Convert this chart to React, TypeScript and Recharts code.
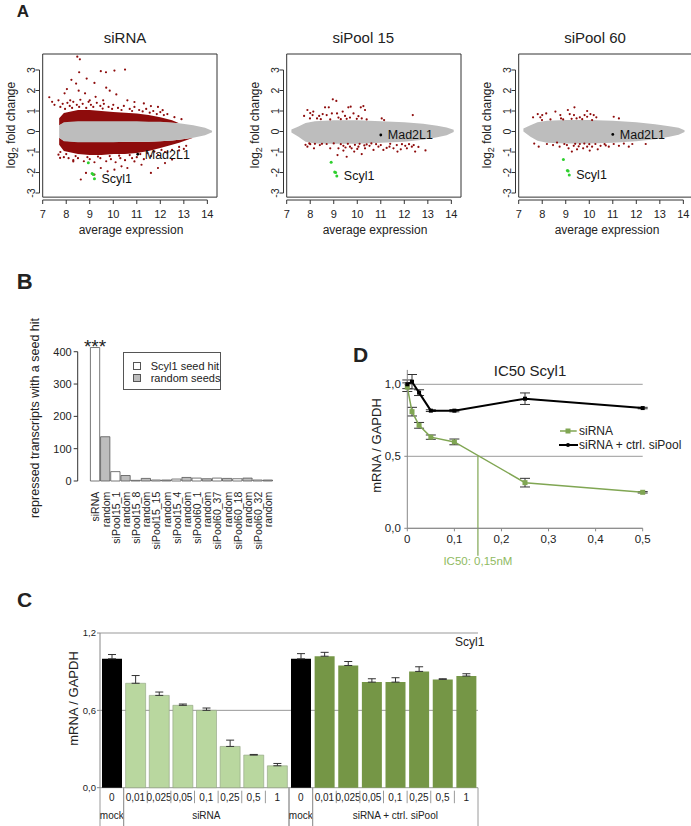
import React from 'react';
import {
  ComposedChart,
  Area,
  Scatter,
  Bar,
  Line,
  Cell,
  XAxis,
  YAxis,
  CartesianGrid,
  ReferenceArea,
  ReferenceLine,
  ReferenceDot,
  LabelList,
  Legend,
  ErrorBar,
} from 'recharts';

const FONT = '"Liberation Sans", Arial, Helvetica, sans-serif';
const NARROW = '"Liberation Sans Narrow", "Liberation Sans", Arial, sans-serif';
const INK = '#222';
const AXIS = '#333';
const RED = '#8e0c0c';
const GREY = '#bdbdbd';
const LIME = '#2fcf2f';
const GREEN_LINE = '#80a653';
const GREEN_LIGHT = '#b9d79f';
const GREEN_DARK = '#759646';

type Pt = [number, number];

// ---------- A: MA plots ----------
const MA_X_TICKS = [7, 8, 9, 10, 11, 12, 13, 14];
const MA_Y_TICKS = [-3, -2, -1, 0, 1, 2, 3];

// dense clouds, drawn as [low, high] bands at these expression values
const SIRNA_BAND_X = [7.7, 7.9, 8.5, 9, 9.5, 10, 10.5, 11, 11.5, 12, 12.5, 12.8, 13.4, 13.9, 14.2];
const SIRNA_GREY: Pt[] = [[-0.3, 0.3], [-0.48, 0.45], [-0.52, 0.5], [-0.52, 0.5], [-0.52, 0.5], [-0.52, 0.5], [-0.5, 0.5], [-0.5, 0.5], [-0.5, 0.48], [-0.48, 0.47], [-0.44, 0.43], [-0.4, 0.4], [-0.3, 0.3], [-0.18, 0.18], [-0.04, 0.04]];
const SIRNA_RED_UP: Pt[] = [[0.3, 0.65], [0.4, 0.9], [0.45, 1.05], [0.45, 1.05], [0.45, 1.0], [0.45, 0.95], [0.45, 0.92], [0.45, 0.88], [0.45, 0.8], [0.45, 0.7], [0.43, 0.55], [0.4, 0.4], [0.3, 0.3], [0.18, 0.18], [0.04, 0.04]];
const SIRNA_RED_DOWN: Pt[] = [[-0.65, -0.3], [-0.95, -0.45], [-1.1, -0.5], [-1.15, -0.5], [-1.15, -0.5], [-1.1, -0.5], [-1.1, -0.5], [-1.05, -0.5], [-0.95, -0.5], [-0.8, -0.48], [-0.65, -0.44], [-0.55, -0.4], [-0.3, -0.3], [-0.18, -0.18], [-0.04, -0.04]];
const SIRNA_RED: Pt[] = [
  [7.28, 1.67], [7.4, 1.45], [7.5, 1.3], [8.47, 3.65], [8.58, 3.52], [8.55, 2.89], [8.22, 2.52], [9.47, 2.94],
  [9.69, 2.89], [10.05, 2.97], [10.5, 3.02], [8.03, 2.07], [7.93, 1.86], [8.42, 2.34], [8.87, 2.58], [9.2, 2.37],
  [9.7, 2.14], [10.13, 1.81], [9.85, 1.99], [8.8, 1.86], [9.25, 1.69], [10.6, 1.52], [10.9, 1.44], [11.3, 1.37],
  [11.6, 1.24], [11.9, 1.2], [12.1, 1.04], [8.53, 1.99], [7.67, 1.52], [8.17, 1.52], [9.0, 1.52], [9.57, 1.52],
  [7.75, 1.2], [7.85, 1.35], [8.05, 1.4], [8.15, 1.25], [8.3, 1.45], [8.45, 1.3], [8.6, 1.55], [8.7, 1.35],
  [8.95, 1.45], [9.05, 1.3], [9.3, 1.4], [9.45, 1.25], [9.6, 1.35], [9.8, 1.2], [10.0, 1.3], [10.2, 1.15],
  [10.45, 1.25], [10.7, 1.1], [10.9, 1.2], [11.1, 1.05], [11.4, 1.1], [11.7, 1.0], [12.0, 0.95], [12.3, 0.85],
  [12.6, 0.7], [12.9, 0.6],
  [7.95, 1.1], [8.25, 1.15], [8.55, 1.2], [8.85, 1.15], [9.15, 1.2], [9.55, 1.12], [9.95, 1.1], [10.35, 1.05],
  [10.8, 1.0], [11.25, 0.98], [11.55, 0.92], [11.85, 0.85], [12.15, 0.8],
  [7.67, -1.13], [7.74, -1.29], [9.47, -1.78], [9.76, -1.94], [10.05, -1.86], [10.35, -1.7], [10.6, -1.78],
  [11.2, -1.62], [11.6, -2.02], [11.9, -1.78], [12.2, -1.54], [12.5, -1.37], [8.62, -2.34], [8.84, -2.02],
  [9.2, -2.1], [8.3, -1.46], [10.9, -1.46], [12.3, -1.0], [12.8, -0.92], [13.0, -0.85],
  [7.75, -1.0], [7.9, -1.25], [8.1, -1.3], [8.3, -1.4], [8.5, -1.3], [8.75, -1.45], [9.0, -1.35], [9.2, -1.5],
  [9.45, -1.3], [9.7, -1.45], [9.9, -1.35], [10.1, -1.5], [10.3, -1.3], [10.5, -1.4], [10.8, -1.3], [11.0, -1.25],
  [11.3, -1.35], [11.6, -1.2], [11.9, -1.15], [12.2, -1.0], [12.5, -0.9], [12.8, -0.75], [13.1, -0.7],
  [8.0, -1.1], [8.4, -1.2], [8.9, -1.25], [9.35, -1.22], [9.85, -1.2], [10.25, -1.18], [10.7, -1.15], [11.15, -1.1],
  [11.45, -1.05], [11.75, -0.98], [12.05, -0.9],
];
const SIRNA_SCYL1: Pt[] = [[8.94, -1.52], [9.1, -2.05], [9.15, -2.1], [9.2, -2.3]];
const SIRNA_MAD2L1: Pt = [11.04, -1.11];

const POOL15_BAND_X = [7.2, 7.5, 7.8, 8.2, 9, 10, 11, 12, 12.8, 13.4, 13.8, 14.1];
const POOL15_GREY: Pt[] = [[-0.05, 0.1], [-0.25, 0.25], [-0.5, 0.42], [-0.58, 0.5], [-0.6, 0.55], [-0.6, 0.55], [-0.55, 0.5], [-0.5, 0.45], [-0.4, 0.38], [-0.28, 0.28], [-0.18, 0.2], [-0.02, 0.08]];
const POOL15_RED: Pt[] = [
  [7.88, 1.05], [7.74, 0.76], [7.99, 0.64], [8.1, 0.8], [8.29, 0.64], [8.53, 0.85], [8.63, 1.18], [8.79, 1.18],
  [8.96, 1.57], [9.11, 1.49], [8.7, 0.8], [8.92, 0.88], [9.14, 0.88], [8.85, 0.59], [9.2, 0.68], [9.62, 1.18],
  [9.72, 1.21], [9.38, 0.97], [9.48, 0.76], [9.69, 0.68], [9.84, 0.88], [9.98, 0.62], [10.15, 1.18], [10.26, 1.24],
  [10.33, 1.05], [10.19, 0.64], [10.4, 0.59], [11.04, 0.64], [11.14, 0.56], [12.36, 0.8], [8.13, 0.97], [8.38, 0.76],
  [8.45, 0.6], [9.3, 0.6], [9.55, 0.62], [10.05, 0.75], [8.0, 0.9],
  [7.88, -0.74], [7.96, -0.58], [8.16, -0.82], [8.41, -0.66], [8.7, -0.61], [8.85, -0.82], [9.2, -0.82], [9.41, -0.93],
  [9.55, -1.23], [9.16, -1.15], [9.69, -0.74], [9.87, -0.98], [10.05, -0.74], [10.19, -1.1], [10.33, -0.82], [10.52, -0.7],
  [10.69, -0.9], [10.9, -0.74], [11.11, -0.9], [11.37, -0.74], [11.54, -0.82], [11.68, -0.66], [11.85, -0.87], [12.11, -0.82],
  [12.32, -0.74], [12.46, -0.98], [11.71, -0.98], [12.04, -0.7], [9.41, -0.7], [9.76, -0.82], [9.6, -0.6], [9.9, -0.65],
  [10.1, -0.6], [10.4, -0.63], [10.6, -0.58], [10.8, -0.62], [9.3, -0.62], [9.0, -0.58], [8.5, -0.6], [8.2, -0.6],
  [8.0, -0.62], [7.8, -0.65], [12.2, -0.62], [12.4, -0.66], [12.6, -0.75], [11.9, -0.62], [11.4, -0.6], [12.9, -0.92],
  [10.3, -0.68], [10.0, -0.85], [9.5, -0.78], [11.0, -0.66], [11.25, -0.8],
];
const POOL15_SCYL1: Pt[] = [[8.89, -1.5], [9.04, -1.98], [9.08, -2.0], [9.13, -2.17]];
const POOL15_MAD2L1: Pt = [11.0, -0.17];

const POOL60_BAND_X = [7.2, 7.5, 7.8, 8.2, 9, 10, 11, 12, 12.8, 13.4, 13.8, 14.05];
const POOL60_GREY: Pt[] = [[0.0, 0.15], [-0.25, 0.3], [-0.45, 0.45], [-0.55, 0.52], [-0.58, 0.56], [-0.58, 0.56], [-0.55, 0.52], [-0.48, 0.45], [-0.38, 0.36], [-0.26, 0.26], [-0.16, 0.18], [-0.02, 0.06]];
const POOL60_RED: Pt[] = [
  [7.61, 0.69], [7.81, 0.85], [7.92, 0.69], [7.99, 0.56], [8.17, 0.88], [8.56, 0.97], [8.77, 0.8], [8.8, 0.64],
  [8.89, 0.59], [9.09, 1.05], [9.17, 0.85], [9.37, 1.18], [9.35, 0.8], [9.46, 0.64], [9.6, 0.69], [9.8, 0.8],
  [9.91, 0.72], [10.05, 0.85], [10.19, 0.8], [10.3, 0.69], [10.12, 0.56], [11.04, 0.72], [11.26, 0.64], [8.0, 0.8],
  [8.35, 0.59], [9.91, 1.0], [9.25, 0.62], [9.7, 0.6],
  [7.85, -0.74], [8.2, -0.61], [8.46, -0.66], [8.63, -0.54], [8.74, -0.74], [8.94, -0.61], [9.12, -0.82], [9.26, -0.98],
  [9.34, -0.7], [9.48, -0.87], [9.6, -0.61], [9.74, -0.82], [9.79, -0.59], [9.91, -0.74], [10.02, -0.93], [10.12, -0.74],
  [10.26, -0.61], [10.36, -0.87], [10.48, -0.7], [10.65, -0.61], [10.83, -0.74], [11.04, -0.61], [11.26, -0.7], [11.47, -0.59],
  [11.68, -0.74], [11.83, -0.61], [12.4, -0.61], [7.66, -0.59], [9.05, -0.66], [9.55, -0.72], [10.0, -0.62], [10.7, -0.68],
  [9.4, -0.6],
];
const POOL60_SCYL1: Pt[] = [[8.9, -1.36], [9.07, -1.9], [9.1, -1.93], [9.15, -2.12]];
const POOL60_MAD2L1: Pt = [11.0, -0.14];

// ---------- B: seed hits ----------
const B_LABELS = [
  'siRNA', 'random', 'siPool15_1', 'random', 'siPool15_8', 'random', 'siPool15_15', 'random', 'siPool15_4',
  'random', 'siPool60_1', 'random', 'siPool60_37', 'random', 'siPool60_18', 'random', 'siPool60_32', 'random',
];
const B_VALUES = [413, 137, 29, 17, 2, 8, 3, 3, 6, 11, 9, 7, 9, 8, 7, 9, 3, 3];
const B_Y_TICKS = [0, 100, 200, 300, 400];
const B_LEGEND = ['Scyl1 seed hit', 'random seeds'];

// ---------- C: qPCR bars ----------
const C_DOSES = ['0', '0,01', '0,025', '0,05', '0,1', '0,25', '0,5', '1', '0', '0,01', '0,025', '0,05', '0,1', '0,25', '0,5', '1'];
const C_GROUPS = [
  'mock', 'siRNA', 'siRNA', 'siRNA', 'siRNA', 'siRNA', 'siRNA', 'siRNA',
  'mock', 'siRNA + ctrl. siPool', 'siRNA + ctrl. siPool', 'siRNA + ctrl. siPool', 'siRNA + ctrl. siPool',
  'siRNA + ctrl. siPool', 'siRNA + ctrl. siPool', 'siRNA + ctrl. siPool',
];
const C_VALUES = [1.0, 0.81, 0.716, 0.639, 0.6, 0.32, 0.253, 0.17, 1.0, 1.02, 0.948, 0.819, 0.819, 0.902, 0.84, 0.866];
const C_ERRORS = [0.033, 0.06, 0.026, 0.01, 0.018, 0.049, 0.005, 0.018, 0.04, 0.03, 0.031, 0.026, 0.034, 0.036, 0.005, 0.018];
const C_Y_TICKS = [0, 0.6, 1.2];

// ---------- D: IC50 ----------
const D_DOSES = [0, 0.01, 0.025, 0.05, 0.1, 0.25, 0.5];
const D_SIRNA = [0.98, 0.81, 0.715, 0.633, 0.6, 0.317, 0.25];
const D_SIRNA_ERR = [0.03, 0.03, 0.02, 0.015, 0.02, 0.03, 0.005];
const D_CTRL = [1.0, 1.018, 0.942, 0.817, 0.817, 0.9, 0.835];
const D_CTRL_ERR = [0.03, 0.05, 0.02, 0.006, 0.008, 0.04, 0.005];
const D_NAMES = ['siRNA', 'siRNA + ctrl. siPool'];
const D_X_TICKS = [0, 0.1, 0.2, 0.3, 0.4, 0.5];
const D_Y_TICKS = [0, 0.5, 1.0];
const D_IC50 = 0.15;

const comma = (v: number, digits = 1) => v.toFixed(digits).replace('.', ',');

// baseline-positioned html text
const Txt = ({ x, y, size, children, align = 'left', weight = 400, color = INK, family = FONT }: any) => {
  const style: React.CSSProperties = {
    position: 'absolute',
    top: y - 0.8465 * size,
    fontSize: size,
    lineHeight: 1,
    fontWeight: weight,
    color,
    fontFamily: family,
    whiteSpace: 'nowrap',
  };
  if (align === 'center') {
    style.left = x - 150;
    style.width = 300;
    style.textAlign = 'center';
  } else {
    style.left = x;
  }
  return <div style={style}>{children}</div>;
};

const dotShape = (r: number, color: string) => (p: any) => <circle cx={p.cx} cy={p.cy} r={r} fill={color} />;

const MAYTick = ({ x, y, payload }: any) => (
  <text x={x} y={y} transform={`rotate(-90 ${x} ${y})`} textAnchor="middle" fontSize={10.5} fill={INK} fontFamily={FONT}>
    {payload.value}
  </text>
);

const toPts = (a: Pt[]) => a.map(([x, y]) => ({ x, y }));

function MAPlot({ left, bandX, grey, redUp, redDown, red, scyl1, mad }: any) {
  const data = bandX.map((x: number, i: number) => ({
    x,
    grey: grey[i],
    up: redUp ? redUp[i] : null,
    dn: redDown ? redDown[i] : null,
  }));
  const last = scyl1[scyl1.length - 1];
  const labelStyle = { fontSize: 12.5, fill: '#111', fontFamily: FONT };
  return (
    <div style={{ position: 'absolute', left, top: 0 }}>
      <ComposedChart width={218} height={240} data={data} margin={{ top: 54, right: 1, bottom: 39, left: 38.5 }}>
        <XAxis
          type="number"
          dataKey="x"
          domain={[6.864, 14.41]}
          ticks={MA_X_TICKS}
          interval={0}
          allowDataOverflow
          height={1}
          axisLine={false}
          tickLine={{ stroke: AXIS }}
          tickSize={4}
          tickMargin={6}
          tick={{ fontSize: 11, fill: INK, fontFamily: FONT }}
          label={{
            content: () => (
              <text x={131} y={234} textAnchor="middle" fontSize={12} fill={INK} fontFamily={FONT}>
                average expression
              </text>
            ),
          }}
        />
        <YAxis
          type="number"
          domain={[-3.34, 3.78]}
          ticks={MA_Y_TICKS}
          interval={0}
          allowDataOverflow
          width={1}
          axisLine={false}
          tickLine={{ stroke: AXIS }}
          tickSize={4}
          tickMargin={0.5}
          tick={<MAYTick />}
          label={{
            content: () => (
              <text x={15} y={125} transform="rotate(-90 15 125)" textAnchor="middle" fontSize={12} fill={INK} fontFamily={FONT}>
                log<tspan fontSize={9} dy={3}>2</tspan>
                <tspan dy={-3}> fold change</tspan>
              </text>
            ),
          }}
        />
        <ReferenceArea x1={7.0} x2={14.41} y1={-3.2} y2={3.78} fill="none" stroke={AXIS} strokeWidth={1} />
        <ReferenceLine segment={[{ x: 7, y: -3.34 }, { x: 14, y: -3.34 }]} stroke={AXIS} ifOverflow="visible" />
        <ReferenceLine segment={[{ x: 6.864, y: -3 }, { x: 6.864, y: 3 }]} stroke={AXIS} ifOverflow="visible" />
        {redUp && <Area dataKey="up" stroke="none" fill={RED} fillOpacity={1} isAnimationActive={false} />}
        {redDown && <Area dataKey="dn" stroke="none" fill={RED} fillOpacity={1} isAnimationActive={false} />}
        <Area dataKey="grey" stroke="none" fill={GREY} fillOpacity={1} isAnimationActive={false} />
        <Scatter data={toPts(red)} dataKey="y" shape={dotShape(1.1, RED)} isAnimationActive={false} />
        <Scatter data={toPts(scyl1)} dataKey="y" shape={dotShape(1.5, LIME)} isAnimationActive={false} />
        <Scatter data={toPts([mad])} dataKey="y" shape={dotShape(1.4, '#000')} isAnimationActive={false} />
        <ReferenceDot x={mad[0]} y={mad[1]} r={0.01} stroke="none" label={{ value: 'Mad2L1', position: 'right', offset: 7, ...labelStyle }} />
        <ReferenceDot x={last[0]} y={last[1]} r={0.01} stroke="none" label={{ value: 'Scyl1', position: 'right', offset: 7, ...labelStyle }} />
      </ComposedChart>
    </div>
  );
}

const MA_PANELS = [
  { title: 'siRNA', left: 0, titleX: 125, bandX: SIRNA_BAND_X, grey: SIRNA_GREY, redUp: SIRNA_RED_UP, redDown: SIRNA_RED_DOWN, red: SIRNA_RED, scyl1: SIRNA_SCYL1, mad: SIRNA_MAD2L1 },
  { title: 'siPool 15', left: 244, titleX: 363.3, bandX: POOL15_BAND_X, grey: POOL15_GREY, red: POOL15_RED, scyl1: POOL15_SCYL1, mad: POOL15_MAD2L1 },
  { title: 'siPool 60', left: 475.6, titleX: 595, bandX: POOL60_BAND_X, grey: POOL60_GREY, red: POOL60_RED, scyl1: POOL60_SCYL1, mad: POOL60_MAD2L1 },
];

// ---------- B ----------
const BTick = ({ x, y, payload }: any) => {
  const bx = x + 4;
  const ty = y + 10.7;
  return (
    <text x={bx} y={ty} transform={`rotate(-90 ${bx} ${ty})`} textAnchor="end" fontSize={10.5} fill={INK} fontFamily={FONT}>
      {B_LABELS[payload.value]}
    </text>
  );
};

const BLegend = () => (
  <div style={{ position: 'relative', width: 98, height: 38, border: '1px solid #555', boxSizing: 'border-box', fontFamily: FONT, fontSize: 11, color: INK }}>
    {B_LEGEND.map((name, i) => (
      <div key={name} style={{ position: 'absolute', left: 8.4, top: 7 + i * 12.7, height: 12, display: 'flex', alignItems: 'center', whiteSpace: 'nowrap' }}>
        <span style={{ width: 6, height: 6, border: '1px solid #555', background: i === 0 ? '#fff' : GREY, marginRight: 10 }} />
        <span>{name}</span>
      </div>
    ))}
  </div>
);

function SeedChart() {
  const data = B_VALUES.map((v, i) => ({ i, v, stars: i === 0 ? '***' : '' }));
  return (
    <div style={{ position: 'absolute', left: 0, top: 300 }}>
      <ComposedChart width={300} height={260} data={data} margin={{ top: 38.8, right: 21.6, bottom: 78, left: 76.7 }}>
        <XAxis
          type="number"
          dataKey="i"
          domain={[-1.75, 18]}
          ticks={B_VALUES.map((_, i) => i)}
          interval={0}
          allowDataOverflow
          height={1}
          axisLine={false}
          tickLine={false}
          tickSize={0}
          tickMargin={0}
          tick={<BTick />}
        />
        <YAxis
          type="number"
          domain={[0, 440]}
          ticks={B_Y_TICKS}
          interval={0}
          width={1}
          axisLine={false}
          tickLine={{ stroke: AXIS }}
          tickSize={4}
          tickMargin={2}
          tick={{ fontSize: 11, fill: INK, fontFamily: FONT }}
          label={{
            content: () => (
              <text x={39} y={118} transform="rotate(-90 39 118)" textAnchor="middle" fontSize={12.5} fill={INK} fontFamily={FONT}>
                repressed transcripts with a seed hit
              </text>
            ),
          }}
        />
        <ReferenceLine segment={[{ x: -1.75, y: 0 }, { x: -1.75, y: 400 }]} stroke={AXIS} ifOverflow="visible" />
        <Bar dataKey="v" barSize={9.3} isAnimationActive={false}>
          {data.map((d) => (
            <Cell key={d.i} fill={d.i % 2 === 0 ? '#fff' : GREY} stroke="#555" strokeWidth={0.8} />
          ))}
          <LabelList dataKey="stars" position="top" offset={-5} fontSize={19} fill={INK} fontFamily={FONT} />
        </Bar>
        <Legend
          layout="horizontal"
          verticalAlign="middle"
          align="center"
          content={<BLegend />}
          wrapperStyle={{ left: 123.3, top: 51.7, width: 98, height: 38 }}
        />
      </ComposedChart>
    </div>
  );
}

// ---------- C ----------
const C_SLOT = 378 / 16;
const SEP = '#9a9a9a';

const CTick = ({ x, y, payload }: any) => {
  const i = Number(payload.value);
  const g = C_GROUPS[i];
  let s = i;
  while (s > 0 && C_GROUPS[s - 1] === g) s--;
  let e = i;
  while (e < C_GROUPS.length - 1 && C_GROUPS[e + 1] === g) e++;
  const half = C_SLOT / 2;
  const center = Math.floor((s + e) / 2) === i;
  return (
    <g fontFamily={FONT} fontSize={10} fill={INK}>
      <text x={x} y={y + 13} textAnchor="middle">{C_DOSES[i]}</text>
      {e !== i && <line x1={x + half} x2={x + half} y1={y + 3} y2={y + 15.5} stroke={SEP} />}
      {s === i && <line x1={x - half} x2={x - half} y1={y} y2={y + 38.3} stroke={SEP} />}
      {e === i && <line x1={x + half} x2={x + half} y1={y} y2={y + 38.3} stroke={SEP} />}
      {center && (
        <text x={x + ((s + e) / 2 - i) * C_SLOT} y={y + 31.3} textAnchor="middle">
          {g}
        </text>
      )}
    </g>
  );
};

function DoseBarChart() {
  const data = C_VALUES.map((v, i) => ({ i, v, err: [0, C_ERRORS[i]] }));
  const fillFor = (i: number) => (C_GROUPS[i] === 'mock' ? '#000' : C_GROUPS[i] === 'siRNA' ? GREEN_LIGHT : GREEN_DARK);
  return (
    <div style={{ position: 'absolute', left: 0, top: 600 }}>
      <ComposedChart width={500} height={226} data={data} margin={{ top: 33, right: 22, bottom: 0.3, left: 99 }} barCategoryGap={2}>
        <CartesianGrid vertical={false} stroke="#999" horizontalValues={C_Y_TICKS} />
        <XAxis
          dataKey="i"
          type="category"
          interval={0}
          height={38}
          axisLine={false}
          tickLine={false}
          tickSize={0}
          tickMargin={0}
          tick={<CTick />}
        />
        <YAxis
          type="number"
          domain={[0, 1.2]}
          ticks={C_Y_TICKS}
          interval={0}
          width={1}
          axisLine={{ stroke: '#888' }}
          tickLine={{ stroke: '#888' }}
          tickSize={3}
          tickMargin={1}
          tickFormatter={(v: number) => comma(v)}
          tick={{ fontSize: 9.5, fill: INK, fontFamily: FONT }}
          label={{
            content: () => (
              <text x={78} y={98.5} transform="rotate(-90 78 98.5)" textAnchor="middle" fontSize={13} fill={INK} fontFamily={FONT}>
                mRNA / GAPDH
              </text>
            ),
          }}
        />
        <Bar dataKey="v" isAnimationActive={false}>
          {data.map((d) => (
            <Cell key={d.i} fill={fillFor(d.i)} stroke={C_GROUPS[d.i] === 'siRNA' ? '#8f9f80' : 'none'} strokeWidth={0.6} />
          ))}
          <ErrorBar dataKey="err" width={4} stroke="#333" strokeWidth={1} direction="y" />
        </Bar>
      </ComposedChart>
    </div>
  );
}

// ---------- D ----------
const squareDot = (color: string, size: number) => (p: any) => (
  <rect key={`sq-${p.index}`} x={p.cx - size / 2} y={p.cy - size / 2} width={size} height={size} fill={color} />
);

const DLegend = () => (
  <div style={{ fontFamily: FONT, fontSize: 12, color: INK, lineHeight: '14px' }}>
    {D_NAMES.map((name, i) => (
      <div key={name} style={{ display: 'flex', alignItems: 'center', height: 14, whiteSpace: 'nowrap' }}>
        <svg width={19} height={14} style={{ marginRight: 1 }}>
          <line x1={i === 0 ? 1 : 0} x2={i === 0 ? 17.7 : 19} y1={7} y2={7} stroke={i === 0 ? GREEN_LINE : '#000'} strokeWidth={i === 0 ? 1.5 : 2} />
          {i === 0 ? <rect x={6.5} y={4.5} width={5} height={5} fill={GREEN_LINE} /> : <circle cx={9} cy={7} r={2} fill="#000" />}
        </svg>
        <span>{name}</span>
      </div>
    ))}
  </div>
);

function IC50Chart() {
  const data = D_DOSES.map((x, i) => ({
    x,
    sirna: D_SIRNA[i],
    sirnaErr: D_SIRNA_ERR[i],
    ctrl: D_CTRL[i],
    ctrlErr: D_CTRL_ERR[i],
  }));
  return (
    <div style={{ position: 'absolute', left: 300, top: 330 }}>
      <ComposedChart width={391} height={250} data={data} margin={{ top: 39.9, right: 48.3, bottom: 50.7, left: 106.3 }}>
        <CartesianGrid vertical={false} stroke="#9a9a9a" horizontalValues={D_Y_TICKS} />
        <XAxis
          type="number"
          dataKey="x"
          domain={[0, 0.5]}
          ticks={D_X_TICKS}
          interval={0}
          height={1}
          axisLine={{ stroke: '#888' }}
          tickLine={{ stroke: '#888' }}
          tickSize={3}
          tickMargin={4}
          tickFormatter={(v: number) => (v === 0 ? '0' : comma(v))}
          tick={{ fontSize: 11.5, fill: INK, fontFamily: FONT }}
        />
        <YAxis
          type="number"
          domain={[0, 1.1]}
          ticks={D_Y_TICKS}
          interval={0}
          width={1}
          axisLine={{ stroke: '#888' }}
          tickLine={{ stroke: '#888' }}
          tickSize={3}
          tickMargin={3.5}
          tickFormatter={(v: number) => comma(v)}
          tick={{ fontSize: 11.5, fill: INK, fontFamily: FONT }}
          label={{
            content: () => (
              <text x={81} y={115.5} transform="rotate(-90 81 115.5)" textAnchor="middle" fontSize={13} fill={INK} fontFamily={FONT}>
                mRNA / GAPDH
              </text>
            ),
          }}
        />
        <ReferenceLine
          segment={[{ x: D_IC50, y: 0.5 }, { x: D_IC50, y: -0.19 }]}
          stroke={GREEN_LINE}
          strokeWidth={1.2}
          ifOverflow="visible"
          label={{
            content: (p: any) => (
              <text x={p.viewBox.x} y={p.viewBox.y + p.viewBox.height + 9} textAnchor="middle" fontSize={11.5} fill="#8fba5f" fontFamily={FONT}>
                {`IC50: ${comma(D_IC50, 2)}nM`}
              </text>
            ),
          }}
        />
        <Line dataKey="sirna" stroke={GREEN_LINE} strokeWidth={1.5} dot={squareDot(GREEN_LINE, 5)} isAnimationActive={false}>
          <ErrorBar dataKey="sirnaErr" width={5} stroke="#333" strokeWidth={1} direction="y" />
        </Line>
        <Line dataKey="ctrl" stroke="#000" strokeWidth={2} dot={squareDot('#000', 4)} isAnimationActive={false}>
          <ErrorBar dataKey="ctrlErr" width={5} stroke="#333" strokeWidth={1} direction="y" />
        </Line>
        <Legend
          layout="horizontal"
          verticalAlign="middle"
          align="center"
          content={<DLegend />}
          wrapperStyle={{ left: 259, top: 94, width: 130, height: 28 }}
        />
      </ComposedChart>
    </div>
  );
}

export default function App() {
  return (
    <div style={{ position: 'absolute', left: 0, top: 0, width: 691, height: 826, overflow: 'hidden', background: '#fff', fontFamily: FONT, color: INK }}>
      <Txt x={16.7} y={17} size={17} weight={700}>A</Txt>
      {MA_PANELS.map((p) => (
        <React.Fragment key={p.title}>
          <MAPlot {...p} />
          <Txt x={p.titleX} y={43} size={15} align="center">{p.title}</Txt>
        </React.Fragment>
      ))}

      <Txt x={16.7} y={290} size={22} weight={700}>B</Txt>
      <SeedChart />

      <Txt x={353} y={361.7} size={21} weight={700}>D</Txt>
      <Txt x={530} y={375.5} size={15} align="center">IC50 Scyl1</Txt>
      <IC50Chart />

      <Txt x={17} y={607} size={21} weight={700} family={NARROW}>C</Txt>
      <DoseBarChart />
      <Txt x={455} y={646} size={12}>Scyl1</Txt>
    </div>
  );
}
